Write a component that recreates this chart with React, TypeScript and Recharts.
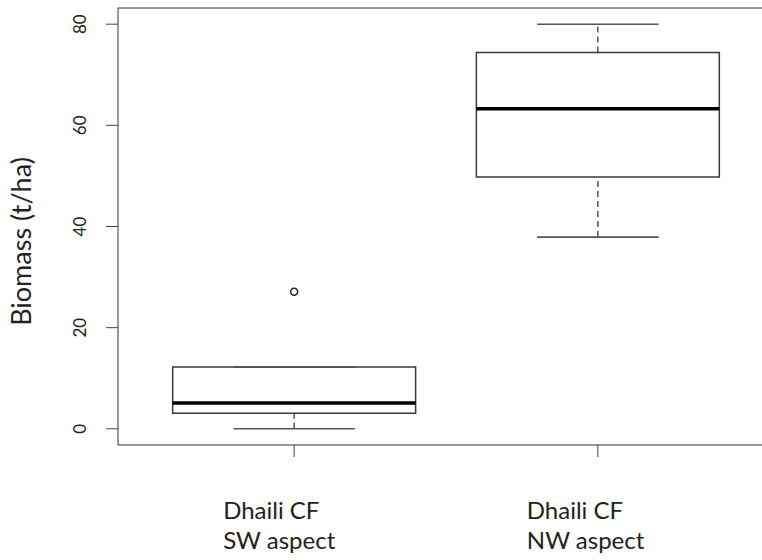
import React from 'react';
import {
  ComposedChart, XAxis, YAxis, ReferenceArea, ReferenceLine, Scatter,
} from 'recharts';

// boxplot stats (t/ha)
const sites = ['Dhaili CF', 'Dhaili CF'];
const aspects = ['SW aspect', 'NW aspect'];
const positions = [1, 2];
const mins = [0, 37.9];
const q1s = [3.1, 49.8];
const medians = [5.1, 63.3];
const q3s = [12.2, 74.4];
const maxs = [12.2, 80];
const outliers = [{ x: 1, y: 27.1 }];

const yTicks = [0, 20, 40, 60, 80];
const xDomain: [number, number] = [0.42, 2.58];
const yDomain: [number, number] = [-3.2, 83.2];

const BOX_HALF = 0.4;
const CAP_HALF = 0.2;
const FONT = 'Lato, "Open Sans", sans-serif';
const INK = '#3a3a3a';

const YTick = ({ x, y, payload }: { x: number; y: number; payload: { value: number } }) => (
  <text
    x={x} y={y} transform={`rotate(-90 ${x} ${y})`} textAnchor="middle"
    fontFamily={FONT} fontSize={17} fill="#222"
  >
    {payload.value}
  </text>
);

const XTick = ({ x, y, payload }: { x: number; y: number; payload: { value: number } }) => {
  const i = positions.indexOf(payload.value);
  return (
    <g>
      <text x={x - 71} y={y + 62} textAnchor="start" fontFamily={FONT} fontSize={24} fill="#222">
        {sites[i]}
      </text>
      <text x={x - 71} y={y + 92} textAnchor="start" fontFamily={FONT} fontSize={24} fill="#222">
        {aspects[i]}
      </text>
    </g>
  );
};

const Outlier = ({ cx, cy }: { cx?: number; cy?: number }) => (
  <circle cx={cx} cy={cy} r={3.5} fill="#fff" stroke="#222" strokeWidth={1.6} />
);

export default function App() {
  return (
    <div style={{ position: 'absolute', left: 0, top: 0, width: 762, height: 560, overflow: 'hidden', background: '#fff' }}>
      <ComposedChart width={780} height={560} margin={{ top: 8, right: 6, bottom: 0, left: 0 }}>
        <XAxis
          type="number" dataKey="x" domain={xDomain} ticks={positions} allowDataOverflow
          axisLine={false} tickSize={12} tickMargin={0} height={115}
          tickLine={{ stroke: '#444' }} tick={XTick as any} interval={0}
        />
        <YAxis
          type="number" dataKey="y" domain={yDomain} ticks={yTicks} allowDataOverflow
          axisLine={false} tickSize={12} tickMargin={20} width={118}
          tickLine={{ stroke: '#444' }} tick={YTick as any} interval={0}
          label={{
            content: ({ viewBox }: any) => {
              const cx = viewBox.x + 31;
              const cy = viewBox.y + viewBox.height / 2 + 15;
              return (
                <text
                  x={cx} y={cy} transform={`rotate(-90 ${cx} ${cy})`} textAnchor="middle"
                  fontFamily={FONT} fontSize={27} fill="#222"
                >
                  Biomass (t/ha)
                </text>
              );
            },
          }}
        />

        {/* plot frame */}
        <ReferenceArea
          x1={xDomain[0]} x2={xDomain[1]} y1={yDomain[0]} y2={yDomain[1]}
          fill="none" fillOpacity={0} stroke="#333" strokeWidth={1} ifOverflow="visible"
        />

        {positions.map((p, i) => (
          <React.Fragment key={p}>
            {/* whiskers */}
            <ReferenceLine
              segment={[{ x: p, y: mins[i] }, { x: p, y: q1s[i] }]}
              stroke={INK} strokeWidth={1.3} strokeDasharray="6 4" ifOverflow="visible"
            />
            <ReferenceLine
              segment={[{ x: p, y: q3s[i] }, { x: p, y: maxs[i] }]}
              stroke={INK} strokeWidth={1.3} strokeDasharray="6 4" ifOverflow="visible"
            />
            <ReferenceLine
              segment={[{ x: p - CAP_HALF, y: mins[i] }, { x: p + CAP_HALF, y: mins[i] }]}
              stroke="#555" strokeWidth={1.6} ifOverflow="visible"
            />
            <ReferenceLine
              segment={[{ x: p - CAP_HALF, y: maxs[i] }, { x: p + CAP_HALF, y: maxs[i] }]}
              stroke="#555" strokeWidth={1.6} ifOverflow="visible"
            />
            {/* box */}
            <ReferenceArea
              x1={p - BOX_HALF} x2={p + BOX_HALF} y1={q1s[i]} y2={q3s[i]}
              fill="#fff" fillOpacity={1} stroke={INK} strokeWidth={1.5} ifOverflow="visible"
            />
            {/* median */}
            <ReferenceLine
              segment={[{ x: p - BOX_HALF, y: medians[i] }, { x: p + BOX_HALF, y: medians[i] }]}
              stroke="#000" strokeWidth={3.5} ifOverflow="visible"
            />
          </React.Fragment>
        ))}

        <Scatter data={outliers} dataKey="y" shape={Outlier as any} isAnimationActive={false} />
      </ComposedChart>
    </div>
  );
}
